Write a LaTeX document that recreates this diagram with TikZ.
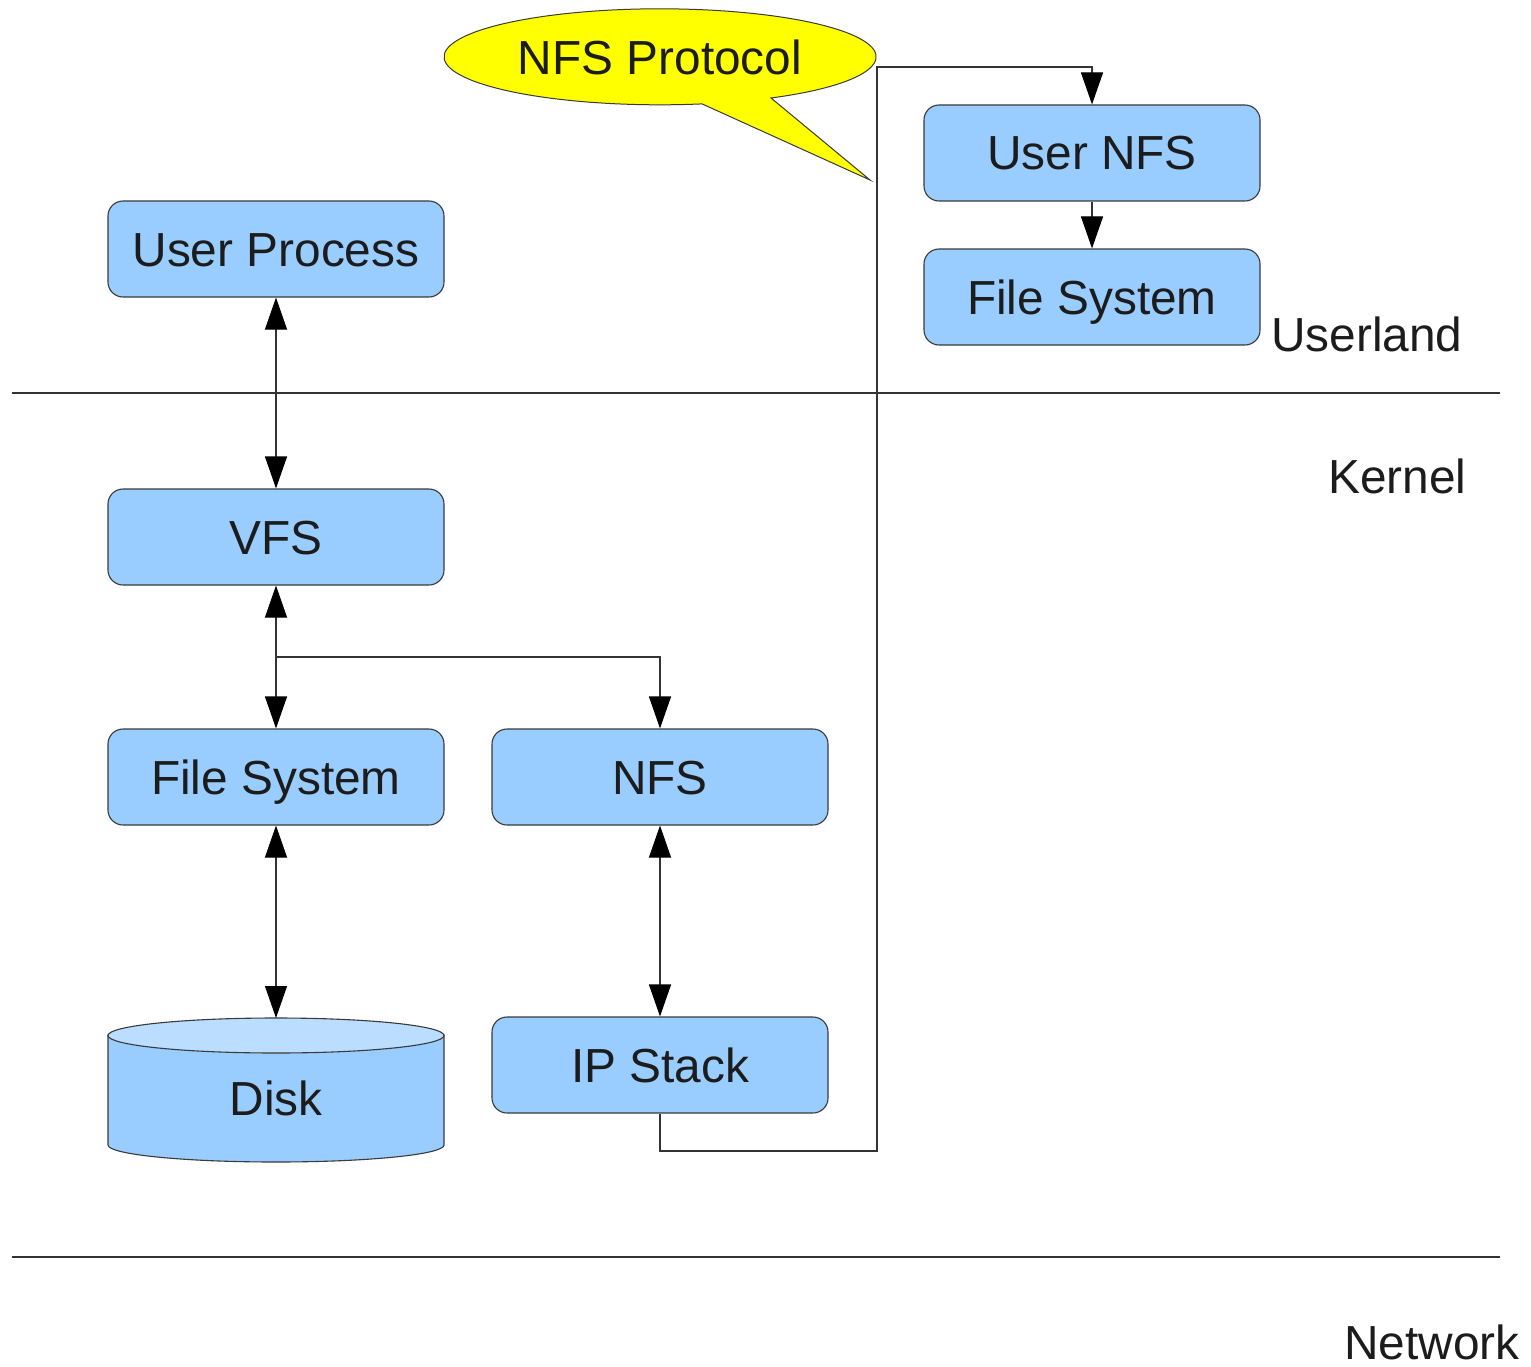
\documentclass[tikz,border=0pt]{standalone}
\usepackage{fontspec}
\setmainfont{Liberation Sans}
\usetikzlibrary{arrows.meta}
\definecolor{boxblue}{HTML}{99CCFF}
\definecolor{disktop}{HTML}{BBDDFF}
\definecolor{edge}{HTML}{3A3A3A}
\definecolor{wire}{HTML}{333333}
\definecolor{txt}{HTML}{1C1C1C}
\definecolor{callout}{HTML}{FFFF00}
\tikzset{
  box/.style={draw=edge, line width=1.1pt, fill=boxblue, rounded corners=15pt,
    minimum width=336pt, minimum height=96pt, inner sep=0pt,
    text height=34pt, text depth=0pt, text=txt},
  lbl/.style={text=txt, inner sep=0pt},
  wirestyle/.style={draw=wire, line width=1.1pt},
  tip/.style={-{Triangle[length=32pt,width=22pt,color=black]}},
  tips/.style={{Triangle[length=32pt,width=22pt,color=black]}-{Triangle[length=32pt,width=22pt,color=black]}},
  sep/.style={draw=wire, line width=1.1pt}
}
\begin{document}
\begin{tikzpicture}[x=1pt,y=1pt]
\fontsize{47.8}{56}\selectfont
\useasboundingbox (0,0) rectangle (1531,-1367);
\fill[white] (0,0) rectangle (1531,-1367);

% separators
\coordinate (s1a) at (12,-393);
\coordinate (s1b) at (1500,-393);
\coordinate (s2a) at (12,-1257);
\coordinate (s2b) at (1500,-1257);
\draw[sep] (s1a) -- (s1b);
\draw[sep] (s2a) -- (s2b);

% callout
\draw[draw=edge, line width=1pt, fill=callout]
  (771,-98) arc[start angle=300.9, end angle=641.2, x radius=216pt, y radius=48pt]
  -- (870,-180) -- cycle;
\node[lbl] (proto) at (660,-57) {NFS Protocol};

% boxes
\node[box] (uproc) at (276,-249) {User Process};
\node[box] (vfs) at (276,-537) {VFS};
\node[box] (kfs) at (276,-777) {File System};
\node[box] (nfs) at (660,-777) {NFS};
\node[box] (ip) at (660,-1065) {IP Stack};
\node[box] (unfs) at (1092,-153) {User NFS};
\node[box] (ufs) at (1092,-297) {File System};

% disk
\draw[draw=edge, line width=1.1pt, fill=boxblue]
  (108,-1035) -- (108,-1145) arc[start angle=180, end angle=360, x radius=168pt, y radius=17pt]
  -- (444,-1035) -- cycle;
\draw[draw=edge, line width=1.1pt, fill=disktop] (276,-1035.5) ellipse[x radius=168pt, y radius=17.5pt];
\node[lbl, text height=34pt, text depth=0pt] (disk) at (276,-1098) {Disk};
\coordinate (disktopc) at (276,-1018);

% labels
\node[lbl, anchor=base west] (userland) at (1271,-351) {Userland};
\node[lbl, anchor=base west] (kernel) at (1328,-493) {Kernel};
\node[lbl, anchor=base west] (network) at (1344,-1359) {Network};

% connectors
\draw[wirestyle, tips] (uproc.south) -- (vfs.north);
\draw[wirestyle, tips] (vfs.south) -- (kfs.north);
\coordinate (br) at (276,-657);
\draw[wirestyle, tip] (br) -| (nfs.north);
\draw[wirestyle, tips] (kfs.south) -- (disktopc);
\draw[wirestyle, tips] (nfs.south) -- (ip.north);
\draw[wirestyle, tip] (unfs.south) -- (ufs.north);
\coordinate (c2) at (877,-1151);
\coordinate (c3) at (877,-67);
\draw[wirestyle, tip] (ip.south) |- (c2) -- (c3) -| (unfs.north);
\end{tikzpicture}
\end{document}
